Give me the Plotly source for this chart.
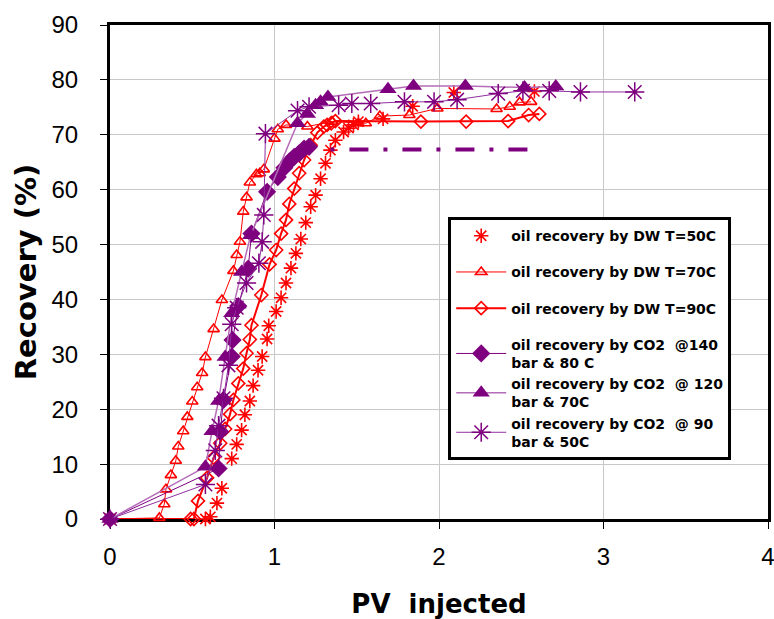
import plotly.graph_objects as go

# ---------------- data ----------------
dw50_x = [0, 0.58, 0.61, 0.65, 0.68, 0.74, 0.77, 0.80, 0.82, 0.85, 0.87, 0.90, 0.925, 0.955, 0.965,
          1.01, 1.04, 1.07, 1.10, 1.13, 1.16, 1.19, 1.22, 1.25, 1.28, 1.31, 1.34, 1.37, 1.42, 1.45,
          1.48, 1.51, 1.66, 1.84, 2.09, 2.58]
dw50_y = [0, 0, 0.4, 2.9, 5.6, 11, 13.6, 16.2, 19, 21.5, 24.3, 27.1, 29.6, 32.8, 35.2,
          37.8, 40.3, 43, 45.7, 48.4, 51, 54, 56.9, 59, 62, 64.8, 67.2, 69, 70.5, 71.2,
          71.8, 72.4, 72.9, 75.2, 77.7, 77.9]

dw70_x = [0, 0.30, 0.33, 0.34, 0.37, 0.40, 0.415, 0.445, 0.47, 0.50, 0.53, 0.56, 0.58, 0.63, 0.68,
          0.75, 0.77, 0.79, 0.81, 0.83, 0.85, 0.89, 0.91, 0.935, 1.0, 1.02, 1.07, 1.20, 1.35, 1.51,
          1.555, 1.64, 1.82, 1.99, 2.35, 2.43, 2.49, 2.56]
dw70_y = [0, 0.2, 2.7, 5.4, 8, 10.6, 13.2, 16, 18.6, 21.4, 24, 26.6, 29.5, 34.6, 39.9,
          45.2, 48.1, 50.5, 56, 58.6, 61.3, 62.8, 63, 63.7, 69.3, 71, 71.8, 71.5, 72.4, 72.1,
          72.1, 73.4, 73.6, 74.8, 74.7, 75.1, 75.9, 76]

dw90_x = [0, 0.49, 0.51, 0.535, 0.59, 0.63, 0.67, 0.70, 0.73, 0.75, 0.78, 0.81, 0.83, 0.85, 0.86,
          0.92, 0.97, 1.01, 1.04, 1.07, 1.09, 1.12, 1.15, 1.18, 1.22, 1.26, 1.30, 1.32, 1.345, 1.37,
          1.89, 2.165, 2.42, 2.545, 2.61]
dw90_y = [0, 0, 0, 3.3, 7.5, 11.2, 13.8, 16.4, 19.1, 21.7, 24.7, 27.4, 30.2, 32.7, 35.3,
          40.8, 46.4, 49, 52, 54.5, 57.4, 60.2, 63, 65.4, 68.1, 70.4, 71.5, 71.8, 72.1, 72.5,
          72.4, 72.4, 72.5, 73.6, 73.8]

co2_140_x = [0, 0.66, 0.67, 0.69, 0.74, 0.745, 0.78, 0.84, 0.86, 0.955, 1.02, 1.06, 1.09, 1.12, 1.15, 1.18, 1.21]
co2_140_y = [0, 9.2, 15.9, 21.7, 29.6, 32.6, 38.8, 45.6, 52, 59.6, 62.3, 64, 65.1, 66, 66.6, 67.5, 67.8]

co2_120_x = [0, 0.58, 0.62, 0.66, 0.70, 0.74, 0.80, 0.855, 1.14, 1.20, 1.25, 1.28, 1.325, 1.69, 1.845, 2.16, 2.52, 2.71]
co2_120_y = [0, 9.5, 16, 21.5, 29.5, 37.5, 45, 51.7, 72.1, 73.8, 75.4, 76, 76.9, 78.3, 78.9, 78.9, 78.6, 78.8]

co2_90_x = [0, 0.58, 0.64, 0.66, 0.69, 0.72, 0.74, 0.77, 0.83, 0.905, 0.925, 0.935, 0.945, 1.14, 1.21,
            1.39, 1.47, 1.585, 1.79, 1.97, 2.11, 2.36, 2.51, 2.67, 2.86, 3.19]
co2_90_y = [0, 6.3, 12.5, 17, 22, 28, 35.5, 38.5, 43, 46.6, 50.5, 55.4, 70.2, 74.4, 75.1,
            75.4, 75.7, 75.7, 76, 76, 76.4, 77.5, 78, 78, 77.8, 77.8]

ref_line_x = [1.34, 2.54]
ref_line_y = [67.3, 67.3]

names = [
    "oil recovery by DW T=50C",
    "oil recovery by DW T=70C",
    "oil recovery by DW T=90C",
    "oil recovery by CO2 \u00a0@140<br>bar & 80 C",
    "oil recovery by CO2 \u00a0@ 120<br>bar & 70C",
    "oil recovery by CO2 \u00a0@ 90<br>bar & 50C",
]

x_ticks = [0, 1, 2, 3, 4]
y_ticks = [0, 10, 20, 30, 40, 50, 60, 70, 80, 90]

RED = "#ff0000"
PURPLE = "#7f007f"

fig = go.Figure()

fig.add_trace(go.Scatter(x=dw50_x, y=dw50_y, name=names[0], mode="markers", legendgroup="g1",
                         cliponaxis=False,
                         marker=dict(symbol="asterisk-open", size=12, color=RED, line=dict(color=RED, width=1.6))))
fig.add_trace(go.Scatter(x=dw70_x, y=dw70_y, name=names[1], mode="lines+markers", legendgroup="g2",
                         cliponaxis=False, line=dict(color=RED, width=1),
                         marker=dict(symbol="triangle-up-open", size=10, color=RED, line=dict(color=RED, width=1.6))))
fig.add_trace(go.Scatter(x=dw90_x, y=dw90_y, name=names[2], mode="lines+markers", legendgroup="g3",
                         cliponaxis=False, line=dict(color=RED, width=2),
                         marker=dict(symbol="diamond-open", size=10, color=RED, line=dict(color=RED, width=1.6))))
fig.add_trace(go.Scatter(x=co2_140_x, y=co2_140_y, name=names[3], mode="lines+markers", legendgroup="g4",
                         cliponaxis=False, line=dict(color=PURPLE, width=1),
                         marker=dict(symbol="diamond", size=14, color=PURPLE)))
fig.add_trace(go.Scatter(x=co2_120_x, y=co2_120_y, name=names[4], mode="lines+markers", legendgroup="g4",
                         cliponaxis=False, line=dict(color="#b46cb8", width=1.5),
                         marker=dict(symbol="triangle-up", size=15, color=PURPLE)))
fig.add_trace(go.Scatter(x=co2_90_x, y=co2_90_y, name=names[5], mode="lines+markers", legendgroup="g4",
                         cliponaxis=False, line=dict(color="#9030a0", width=1),
                         marker=dict(symbol="asterisk-open", size=16, color=PURPLE, line=dict(color=PURPLE, width=1.5))))
fig.add_trace(go.Scatter(x=ref_line_x, y=ref_line_y, mode="lines", showlegend=False, hoverinfo="skip",
                         line=dict(color=PURPLE, width=4, dash="4px,15px,19px,15px")))

fig.update_layout(
    width=774, height=619,
    margin=dict(l=110, r=6, t=25, b=100, autoexpand=False),
    paper_bgcolor="white", plot_bgcolor="white",
    font=dict(family="Liberation Sans, Arial, sans-serif", color="black"),
    legend=dict(
        x=0.514, y=0.611, xanchor="left", yanchor="top",
        bgcolor="white", bordercolor="black", borderwidth=3,
        font=dict(family="DejaVu Sans", size=14, color="black", weight="bold"),
        tracegroupgap=15, itemwidth=50,
    ),
    xaxis=dict(
        range=[0, 4], tickvals=x_ticks, ticktext=[str(v) for v in x_ticks],
        showgrid=True, gridcolor="#c8c8c8", gridwidth=1, zeroline=False,
        showline=True, linecolor="black", linewidth=3, mirror=True,
        ticks="outside", ticklen=7, tickcolor="black", tickwidth=1,
        ticklabelstandoff=7, ticklabeloverflow="allow", layer="below traces", automargin=False,
        tickfont=dict(size=24, family="Liberation Sans, Arial, sans-serif"),
        title=dict(text="PV  injected", standoff=38,
                   font=dict(size=26, family="DejaVu Sans", weight="bold")),
    ),
    yaxis=dict(
        range=[0, 90], tickvals=y_ticks, ticktext=[str(v) for v in y_ticks],
        showgrid=True, gridcolor="#c8c8c8", gridwidth=1, zeroline=False,
        showline=True, linecolor="black", linewidth=3, mirror=True,
        ticks="outside", ticklen=7, tickcolor="black", tickwidth=1,
        ticklabelstandoff=17, layer="below traces", automargin=False,
        tickfont=dict(size=24, family="Liberation Sans, Arial, sans-serif"),
        title=dict(text="Recovery (%)", standoff=7,
                   font=dict(size=29, family="DejaVu Sans", weight="bold")),
    ),
)

fig.write_html("out.html")
